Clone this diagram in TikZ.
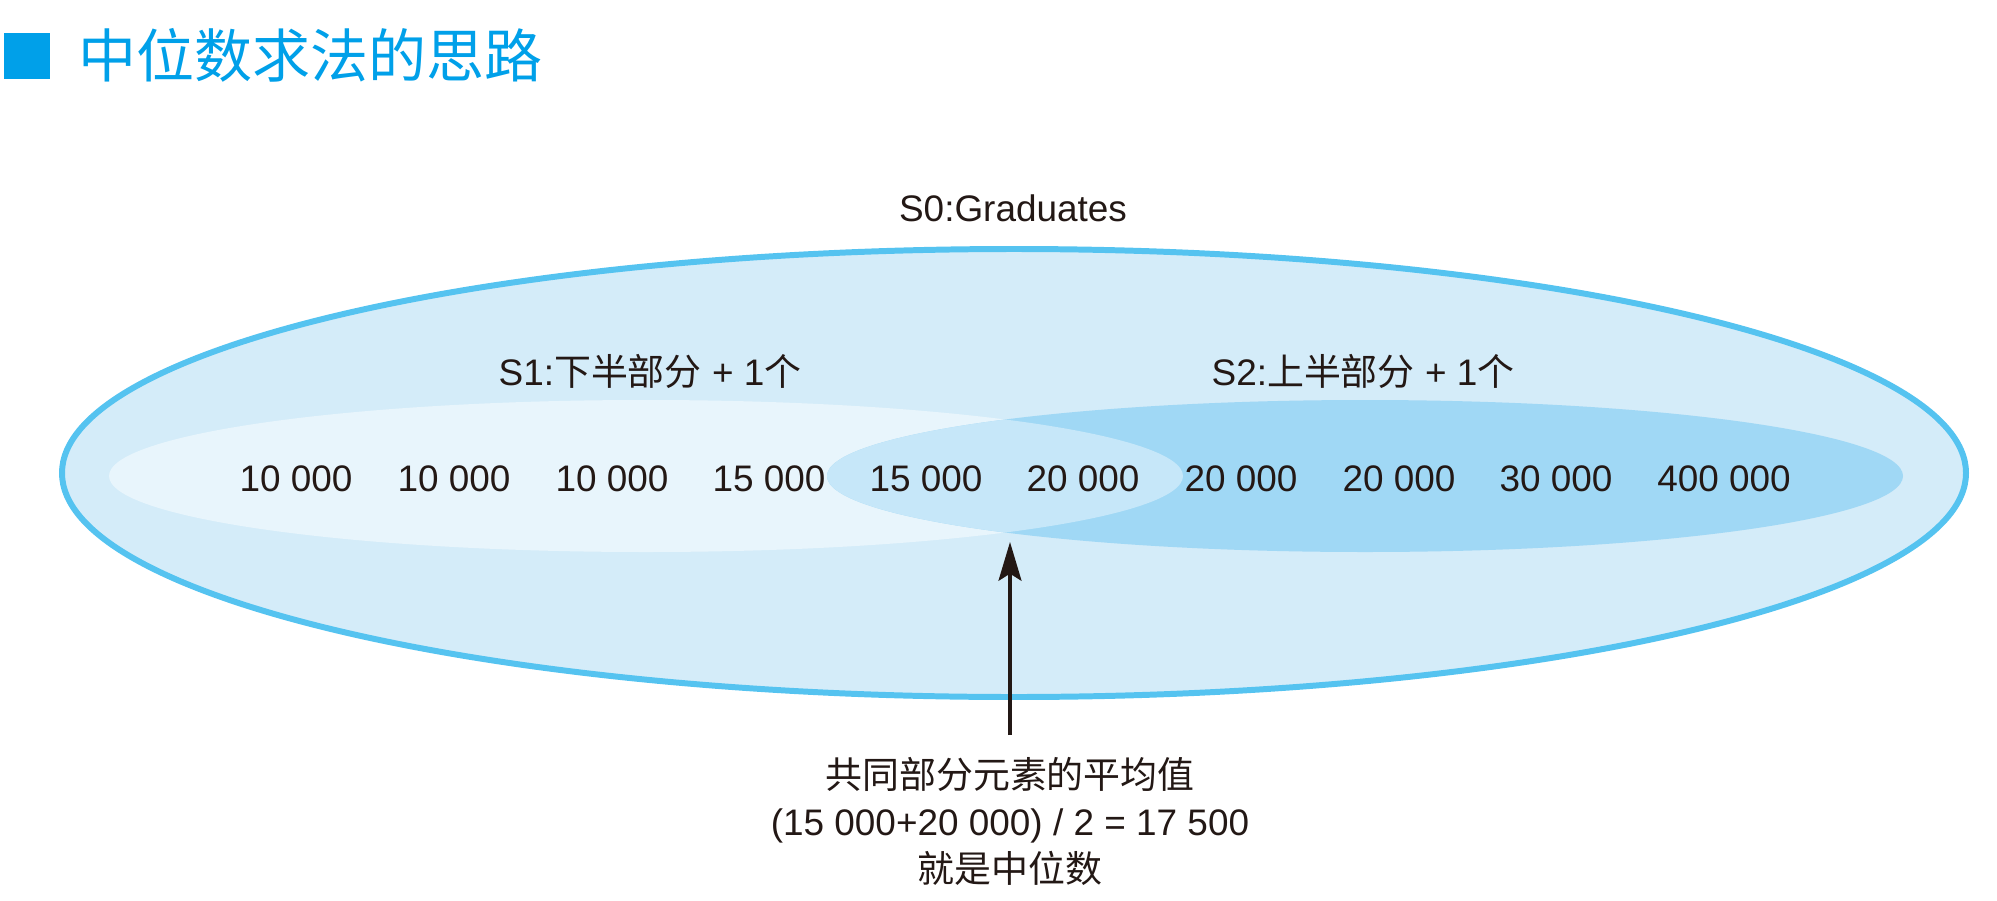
\documentclass[tikz,border=0pt]{standalone}
\usepackage{fontspec}
\setmainfont{Liberation Sans}
\newfontfamily\cjk{Noto Sans CJK SC}
\usepackage{tikz}
\usetikzlibrary{arrows.meta,positioning}
\definecolor{titleBlue}{RGB}{0,160,233}
\definecolor{setLine}{RGB}{85,195,240}
\definecolor{setFill}{RGB}{212,236,249}
\definecolor{lowFill}{RGB}{232,245,252}
\definecolor{highFill}{RGB}{160,216,245}
\definecolor{bothFill}{RGB}{198,231,249}
\definecolor{inkDark}{RGB}{35,24,21}
\tikzset{
  val/.style={font=\fontsize{10.5}{12}\selectfont,text=inkDark,inner sep=0pt},
  setlbl/.style={font=\fontsize{10.5}{12}\selectfont,text=inkDark,inner sep=0pt},
  note/.style={font=\fontsize{10.5}{13.4}\selectfont,text=inkDark,align=center,
               inner sep=0pt,outer ysep=6.3pt},
  arr/.style={-{Stealth[length=11pt,width=6.5pt,inset=2pt]},line width=1.1pt,draw=inkDark},
}

\begin{document}
\begin{tikzpicture}[x=0.01cm,y=-0.01cm]
  \useasboundingbox (0,0) rectangle (1997,900);

  % title
  \fill[titleBlue] (4,33) rectangle (50,79);
  \node[font=\cjk\fontsize{16.5}{18}\selectfont,text=titleBlue,anchor=west,inner sep=0pt]
    (title) at (78,55) {中位数求法的思路};

  % sets
  \draw[setLine,line width=1.7pt,fill=setFill] (1014,473) ellipse [x radius=952, y radius=224];
  \fill[lowFill] (646,476) ellipse [x radius=537, y radius=76];
  \fill[highFill] (1365,476) ellipse [x radius=538, y radius=76];
  \begin{scope}
    \clip (646,476) ellipse [x radius=537, y radius=76];
    \fill[bothFill] (1365,476) ellipse [x radius=538, y radius=76];
  \end{scope}

  \node[setlbl] (s0) at (1013,208) {S0:Graduates};
  \node[setlbl] (s1) at (650,371) {S1:{\cjk 下半部分} + 1{\cjk 个}};
  \node[setlbl] (s2) at (1363,371) {S2:{\cjk 上半部分} + 1{\cjk 个}};

  % values
  \node[val] (v1) at (296,479) {10 000};
  \node[val] (v2) at (454,479) {10 000};
  \node[val] (v3) at (612,479) {10 000};
  \node[val] (v4) at (769,479) {15 000};
  \node[val] (v5) at (926,479) {15 000};
  \node[val] (v6) at (1083,479) {20 000};
  \node[val] (v7) at (1241,479) {20 000};
  \node[val] (v8) at (1399,479) {20 000};
  \node[val] (v9) at (1556,479) {30 000};
  \node[val] (v10) at (1724,479) {400 000};

  % median
  \coordinate (tip) at (1010,542);
  \node[note,anchor=north] (median) at (1010,735)
    {{\cjk 共同部分元素的平均值}\\(15 000+20 000) / 2 = 17 500\\{\cjk 就是中位数}};
  \draw[arr] (median.north) -- (tip);
\end{tikzpicture}
\end{document}
